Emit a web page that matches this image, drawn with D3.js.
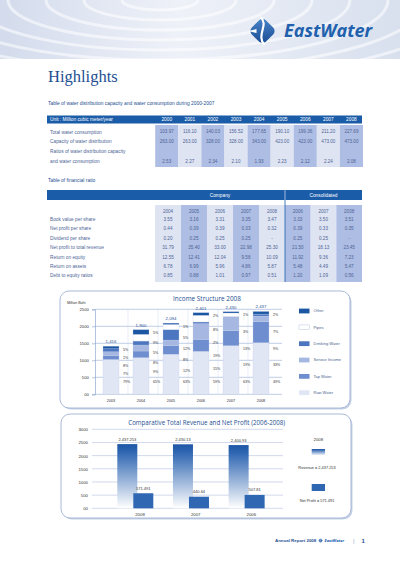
<!DOCTYPE html>
<html>
<head>
<meta charset="utf-8">
<script src="https://cdn.jsdelivr.net/npm/d3@7"></script>
<style>
  html, body { margin: 0; padding: 0; background: #fff; }
  svg { display: block; }
</style>
</head>
<body>
<div id="page"></div>
<script>
// Water distribution table
const waterYears = ["2000", "2001", "2002", "2003", "2004", "2005", "2006", "2007", "2008"];
const totalConsumption = [103.97, 116.1, 140.03, 156.52, 177.65, 190.1, 199.36, 211.2, 227.69];
const distributionCapacity = [263, 263, 328, 328, 343, 423, 423, 473, 473];
const capacityRatio = [2.53, 2.27, 2.34, 2.1, 1.93, 2.23, 2.12, 2.24, 2.08];

// Financial ratio table
const companyYears = ["2004", "2005", "2006", "2007", "2008"];
const consolidatedYears = ["2006", "2007", "2008"];
const ratioNames = ["Book value per share", "Net profit per share", "Dividend per share",
  "Net profit to total revenue", "Return on equity", "Return on assets", "Debt to equity ratios"];
const companyRatios = [
  [3.55, 3.16, 3.31, 3.35, 3.47],
  [0.44, 0.39, 0.39, 0.33, 0.32],
  [0.20, 0.25, 0.25, 0.25, null],
  [31.79, 35.40, 33.00, 22.98, 25.30],
  [12.55, 12.41, 12.04, 9.58, 10.09],
  [6.78, 6.99, 5.96, 4.86, 5.87],
  [0.85, 0.88, 1.01, 0.97, 0.51],
];
const consolidatedRatios = [
  [3.33, 3.50, 3.51],
  [0.39, 0.33, 0.35],
  [0.25, 0.25, null],
  [21.50, 18.13, 23.45],
  [11.92, 9.36, 7.23],
  [5.48, 4.49, 5.47],
  [1.20, 1.09, 0.56],
];

// Income structure (million baht)
const incomeYears = ["2003", "2004", "2005", "2006", "2007", "2008"];
const incomeTotals = [1416, 1900, 2094, 2401, 2430, 2437];
const incomeCategories = ["Raw Water", "Tap Water", "Service Income", "Drinking Water", "Pipes", "Other"];
const rawWater = [1024, 1077, 1180, 1264, 1429, 1516];
const tapWater = [118, 196, 245, 353, 441, 617];
const serviceIncome = [108, 176, 170, 461, 421, 167];
const drinkingWater = [88, 118, 310, 49, 0, 59];
const pipesIncome = [0, 196, 150, 196, 100, 0];
const otherIncome = [78, 137, 39, 78, 39, 78];
const incomeShares = [
  ["5%", "1%", "8%", "7%", "79%"],
  ["5%", "9%", "5%", "8%", "9%", "65%"],
  ["1%", "5%", "12%", "8%", "12%", "63%"],
  ["2%", "8%", "2%", "19%", "15%", "59%"],
  ["1%", "3%", "13%", "19%", "63%"],
  ["2%", "7%", "9%", "33%", "49%"],
];
const incomeTicks = [0, 500, 1000, 1500, 2000, 2500];

// Revenue and net profit
const compYears = ["2008", "2007", "2006"];
const totalRevenue = [2437.253, 2430.13, 2400.93];
const netProfit = [571.491, 440.64, 507.81];
const compTicks = [0, 500, 1000, 1500, 2000, 2500, 3000];

const sans = "'Liberation Sans', Arial, sans-serif";
const round = "'Open Sans', 'Liberation Sans', sans-serif";
const navy = "#1d4f91";
const headBlue = "#1b5ca8";
const cellDark = "#aebde3";
const cellLight = "#dfe4f3";
const cellText = "#4d6496";
const fmt2 = d3.format(".2f");
const fmtNum = d3.format(",");

const svg = d3.select("#page").append("svg")
  .attr("width", 400).attr("height", 565)
  .attr("viewBox", [0, 0, 400, 565]);
const defs = svg.append("defs");

// ---- banner ----
const bannerGrad = defs.append("linearGradient").attr("id", "banner");
bannerGrad.append("stop").attr("offset", "0").attr("stop-color", "#d3dbec");
bannerGrad.append("stop").attr("offset", "0.45").attr("stop-color", "#eef1f8");
bannerGrad.append("stop").attr("offset", "1").attr("stop-color", "#d8e0ee");
defs.append("clipPath").attr("id", "bannerClip")
  .append("rect").attr("width", 400).attr("height", 59);

svg.append("rect").attr("width", 400).attr("height", 59).attr("fill", "url(#banner)");
svg.append("g").attr("clip-path", "url(#bannerClip)")
  .selectAll("ellipse")
  .data(d3.range(1, 12))
  .join("ellipse")
  .attr("cx", 160).attr("cy", 0)
  .attr("rx", (d) => d * 38).attr("ry", (d) => d * 10)
  .attr("fill", "none")
  .attr("stroke", "#ffffff")
  .attr("stroke-opacity", 0.55)
  .attr("stroke-width", 3);

// logo
const logoGrad = defs.append("linearGradient").attr("id", "logo")
  .attr("x1", 0).attr("y1", 0).attr("x2", 1).attr("y2", 1);
logoGrad.append("stop").attr("offset", "0").attr("stop-color", "#4a86cc");
logoGrad.append("stop").attr("offset", "1").attr("stop-color", "#18498f");

function drawLogo(g, s) {
  g.append("rect")
    .attr("x", -10 * s).attr("y", -10 * s)
    .attr("width", 20 * s).attr("height", 20 * s)
    .attr("rx", 5 * s)
    .attr("transform", "rotate(45)")
    .attr("fill", "url(#logo)");
  g.append("path")
    .attr("d", `M${-2 * s},${-14 * s} C${7 * s},${-6 * s} ${-7 * s},${4 * s} ${2 * s},${14 * s}`)
    .attr("fill", "none").attr("stroke", "#fff").attr("stroke-width", 2.2 * s);
  g.append("path")
    .attr("d", `M${-14 * s},0 L${-6 * s},${-2 * s} L${-6 * s},${2 * s} Z`)
    .attr("fill", "#fff");
}
drawLogo(svg.append("g").attr("transform", "translate(262.5,31)"), 1);
svg.append("text")
  .attr("x", 284).attr("y", 36.5)
  .attr("font-family", round).attr("font-weight", 700).attr("font-style", "italic")
  .attr("font-size", 18).attr("fill", "#2060ad")
  .text("EastWater");

svg.append("text")
  .attr("x", 48).attr("y", 82)
  .attr("font-family", "'Liberation Serif', 'DejaVu Serif', serif")
  .attr("font-size", 16.5).attr("fill", navy)
  .text("Highlights");

// ---- table 1 ----
svg.append("text")
  .attr("x", 48).attr("y", 104.5)
  .attr("font-family", sans).attr("font-size", 4.9).attr("fill", navy)
  .text("Table of water distribution capacity and water consumption during 2000-2007");

const wx = d3.scaleBand().domain(waterYears).range([155.2, 363]);
svg.append("rect").attr("x", 47).attr("y", 115.5).attr("width", 315).attr("height", 8).attr("fill", headBlue);
svg.append("text")
  .attr("x", 50).attr("y", 119.5).attr("dy", "0.35em")
  .attr("font-family", sans).attr("font-size", 4.8).attr("fill", "#fff")
  .text("Unit : Million cubic meter/year");
svg.append("g")
  .selectAll("text")
  .data(waterYears)
  .join("text")
  .attr("x", (d) => wx(d) + wx.bandwidth() / 2).attr("y", 119.5).attr("dy", "0.35em")
  .attr("text-anchor", "middle")
  .attr("font-family", sans).attr("font-size", 4.8).attr("fill", "#fff")
  .text((d) => d);

svg.append("g")
  .selectAll("rect")
  .data(waterYears)
  .join("rect")
  .attr("x", (d) => wx(d)).attr("y", 125)
  .attr("width", wx.bandwidth()).attr("height", 42)
  .attr("fill", (d, i) => (i % 2 === 0 ? cellDark : cellLight));

const waterRows = [
  { label: "Total water consumption", values: totalConsumption },
  { label: "Capacity of water distribution", values: distributionCapacity },
  { label: "Ratios of water distribution capacity", values: null },
  { label: "and water consumption", values: capacityRatio },
];
const wy = d3.scaleBand().domain(d3.range(waterRows.length)).range([127, 166]);
waterRows.forEach((row, r) => {
  const cy = wy(r) + wy.bandwidth() / 2;
  svg.append("text")
    .attr("x", 50).attr("y", cy).attr("dy", "0.35em")
    .attr("font-family", sans).attr("font-size", 4.8).attr("fill", cellText)
    .text(row.label);
  if (!row.values) return;
  svg.append("g")
    .selectAll("text")
    .data(row.values)
    .join("text")
    .attr("x", (d, i) => wx(waterYears[i]) + wx.bandwidth() / 2).attr("y", cy).attr("dy", "0.35em")
    .attr("text-anchor", "middle")
    .attr("font-family", sans).attr("font-size", 4.6).attr("fill", cellText)
    .text((d) => fmt2(d));
});

// ---- table 2 ----
svg.append("text")
  .attr("x", 48).attr("y", 181.5)
  .attr("font-family", sans).attr("font-size", 4.9).attr("fill", navy)
  .text("Table of financial ratio");

const cx = d3.scaleBand().domain(companyYears).range([155, 285]);
const kx = d3.scaleBand().domain(consolidatedYears).range([285, 362]);
svg.append("rect").attr("x", 47).attr("y", 190).attr("width", 315).attr("height", 10).attr("fill", headBlue);
svg.append("line").attr("x1", 285).attr("x2", 285).attr("y1", 190).attr("y2", 200)
  .attr("stroke", "#fff").attr("stroke-width", 0.6);
svg.append("text")
  .attr("x", 220).attr("y", 195).attr("dy", "0.35em").attr("text-anchor", "middle")
  .attr("font-family", sans).attr("font-size", 4.8).attr("fill", "#fff").text("Company");
svg.append("text")
  .attr("x", 323.5).attr("y", 195).attr("dy", "0.35em").attr("text-anchor", "middle")
  .attr("font-family", sans).attr("font-size", 4.8).attr("fill", "#fff").text("Consolidated");

svg.append("g")
  .selectAll("rect")
  .data(companyYears)
  .join("rect")
  .attr("x", (d) => cx(d)).attr("y", 205)
  .attr("width", cx.bandwidth()).attr("height", 77)
  .attr("fill", (d, i) => (i % 2 === 1 ? cellDark : cellLight));
svg.append("g")
  .selectAll("rect")
  .data(consolidatedYears)
  .join("rect")
  .attr("x", (d) => kx(d)).attr("y", 205)
  .attr("width", kx.bandwidth()).attr("height", 77)
  .attr("fill", (d, i) => (i % 2 === 0 ? cellDark : cellLight));
svg.append("line").attr("x1", 285).attr("x2", 285).attr("y1", 200).attr("y2", 282)
  .attr("stroke", headBlue).attr("stroke-width", 0.8);

const yearCells = companyYears.map((d) => ({ d, x: cx(d) + cx.bandwidth() / 2 }))
  .concat(consolidatedYears.map((d) => ({ d, x: kx(d) + kx.bandwidth() / 2 })));
svg.append("g")
  .selectAll("text")
  .data(yearCells)
  .join("text")
  .attr("x", (c) => c.x).attr("y", 211.7).attr("dy", "0.35em")
  .attr("text-anchor", "middle")
  .attr("font-family", sans).attr("font-size", 4.6).attr("fill", cellText)
  .text((c) => c.d);

const ry = d3.scaleBand().domain(ratioNames).range([214.5, 280.5]);
ratioNames.forEach((name, r) => {
  const cy = ry(name) + ry.bandwidth() / 2;
  svg.append("text")
    .attr("x", 50).attr("y", cy).attr("dy", "0.35em")
    .attr("font-family", sans).attr("font-size", 4.8).attr("fill", cellText)
    .text(name);
  const vals = companyRatios[r].concat(consolidatedRatios[r]);
  svg.append("g")
    .selectAll("text")
    .data(vals)
    .join("text")
    .attr("x", (v, i) => yearCells[i].x).attr("y", cy).attr("dy", "0.35em")
    .attr("text-anchor", "middle")
    .attr("font-family", sans).attr("font-size", 4.6).attr("fill", cellText)
    .text((v) => (v == null ? "-" : fmt2(v)));
});

// ---- panels ----
function panel(x, y, w, h) {
  svg.append("rect").attr("x", x + 1.5).attr("y", y + 1.5).attr("width", w).attr("height", h)
    .attr("rx", 9).attr("fill", "#c6d1e6");
  svg.append("rect").attr("x", x).attr("y", y).attr("width", w).attr("height", h)
    .attr("rx", 9).attr("fill", "#fff").attr("stroke", "#9fb2d4").attr("stroke-width", 0.9);
}
panel(60, 291, 290, 117);
panel(61, 414, 290, 104);

// ---- income structure chart ----
svg.append("text")
  .attr("x", 207).attr("y", 300.5).attr("text-anchor", "middle")
  .attr("font-family", round).attr("font-size", 6.4).attr("fill", navy)
  .text("Income Structure 2008");
svg.append("text")
  .attr("x", 67).attr("y", 303.5)
  .attr("font-family", sans).attr("font-size", 3.6).attr("fill", "#333")
  .text("Million Baht");

const iy = d3.scaleLinear().domain([0, 2500]).range([394.3, 309.3]);
const ix = d3.scaleBand().domain(incomeYears).range([98, 278]);

const incomeAxis = svg.append("g")
  .attr("transform", "translate(95,0)")
  .call(d3.axisLeft(iy).tickValues(incomeTicks).tickSize(3).tickPadding(3)
    .tickFormat((d) => (d === 0 ? "00" : d)));
incomeAxis.select(".domain").attr("stroke", "#7f9bcc").attr("stroke-width", 0.6);
incomeAxis.selectAll(".tick line").attr("stroke", "#7f9bcc").attr("stroke-width", 0.6);
incomeAxis.selectAll(".tick text")
  .attr("font-family", sans).attr("font-size", 4.3).attr("fill", "#333");

svg.append("g")
  .selectAll("line")
  .data(incomeTicks)
  .join("line")
  .attr("x1", 95).attr("x2", 282)
  .attr("y1", (d) => iy(d)).attr("y2", (d) => iy(d))
  .attr("stroke", "#7f9bcc").attr("stroke-width", 0.5);
svg.append("g")
  .selectAll("line")
  .data(incomeYears.slice(1))
  .join("line")
  .attr("x1", (d) => ix(d)).attr("x2", (d) => ix(d))
  .attr("y1", iy(2500)).attr("y2", iy(0))
  .attr("stroke", "#c3cfe8").attr("stroke-width", 0.4);

const incomeTable = incomeYears.map((year, i) => ({
  year,
  "Raw Water": rawWater[i],
  "Tap Water": tapWater[i],
  "Service Income": serviceIncome[i],
  "Drinking Water": drinkingWater[i],
  "Pipes": pipesIncome[i],
  "Other": otherIncome[i],
}));
const stacked = d3.stack().keys(incomeCategories)(incomeTable);
const incomeColor = d3.scaleOrdinal()
  .domain(incomeCategories)
  .range(["#e1e6f5", "#6e8ecf", "#a6b8e1", "#4d76c0", "#ffffff", "#1a56a2"]);

const barOffset = 5;
const barWidth = 16;
svg.append("g")
  .selectAll("g")
  .data(stacked)
  .join("g")
  .attr("fill", (s) => incomeColor(s.key))
  .selectAll("rect")
  .data((s) => s)
  .join("rect")
  .attr("x", (d) => ix(d.data.year) + barOffset)
  .attr("y", (d) => iy(d[1]))
  .attr("width", barWidth)
  .attr("height", (d) => iy(d[0]) - iy(d[1]))
  .attr("stroke", "#c2cde9")
  .attr("stroke-width", 0.3);

svg.append("g")
  .selectAll("text")
  .data(incomeYears)
  .join("text")
  .attr("x", (d) => ix(d) + barOffset + barWidth / 2)
  .attr("y", (d, i) => iy(incomeTotals[i]) - 3)
  .attr("text-anchor", "middle")
  .attr("font-family", sans).attr("font-size", 4.3).attr("fill", navy)
  .text((d, i) => fmtNum(incomeTotals[i]));

// percentage labels, spread from bar top down to the lower part of the bar
incomeYears.forEach((year, i) => {
  const labels = incomeShares[i];
  const top = iy(incomeTotals[i]) + 3.5;
  const bottom = iy(370);
  const step = (bottom - top) / (labels.length - 1);
  svg.append("g")
    .selectAll("text")
    .data(labels)
    .join("text")
    .attr("x", ix(year) + barOffset + barWidth + 4)
    .attr("y", (d, k) => top + k * step)
    .attr("dy", "0.35em")
    .attr("font-family", sans).attr("font-size", 3.6).attr("fill", "#333")
    .text((d) => d);
});

svg.append("g")
  .selectAll("text")
  .data(incomeYears)
  .join("text")
  .attr("x", (d) => ix(d) + barOffset + barWidth / 2)
  .attr("y", 401).attr("dy", "0.35em")
  .attr("text-anchor", "middle")
  .attr("font-family", sans).attr("font-size", 3.8).attr("fill", "#333")
  .text((d) => d);

// legend
const legendOrder = incomeCategories.slice().reverse();
const ly = d3.scalePoint().domain(legendOrder).range([311, 392.7]);
const legend = svg.append("g")
  .selectAll("g")
  .data(legendOrder)
  .join("g")
  .attr("transform", (d) => `translate(299,${ly(d)})`);
legend.append("rect")
  .attr("x", 0).attr("y", -2.4).attr("width", 10.5).attr("height", 4.8)
  .attr("fill", (d) => incomeColor(d))
  .attr("stroke", (d) => (d === "Pipes" ? "#b8c5e4" : "none"))
  .attr("stroke-width", 0.5);
legend.append("text")
  .attr("x", 14.5).attr("dy", "0.35em")
  .attr("font-family", sans).attr("font-size", 4).attr("fill", "#4a5f8e")
  .text((d) => d);

// ---- comparative revenue / profit chart ----
svg.append("text")
  .attr("x", 206.7).attr("y", 425).attr("text-anchor", "middle")
  .attr("font-family", round).attr("font-size", 6.2).attr("fill", navy)
  .text("Comparative Total Revenue and Net Profit (2006-2008)");

const cy2 = d3.scaleLinear().domain([0, 3000]).range([508.3, 429.3]);
const cx2 = d3.scaleBand().domain(compYears).range([100, 267]);
const compAxis = svg.append("g")
  .attr("transform", "translate(92,0)")
  .call(d3.axisLeft(cy2).tickValues(compTicks).tickSize(0).tickPadding(4)
    .tickFormat((d) => (d === 0 ? "00" : d)));
compAxis.select(".domain").remove();
compAxis.selectAll(".tick text")
  .attr("font-family", sans).attr("font-size", 4.3).attr("fill", "#333");

svg.append("g")
  .selectAll("line")
  .data(compTicks)
  .join("line")
  .attr("x1", 92).attr("x2", 283)
  .attr("y1", (d) => cy2(d)).attr("y2", (d) => cy2(d))
  .attr("stroke", "#a3b3d6").attr("stroke-width", 0.5);

const revGrad = defs.append("linearGradient").attr("id", "revenue")
  .attr("x1", 0).attr("y1", 0).attr("x2", 0).attr("y2", 1);
revGrad.append("stop").attr("offset", "0").attr("stop-color", "#1c56a5");
revGrad.append("stop").attr("offset", "0.12").attr("stop-color", "#2f66b2");
revGrad.append("stop").attr("offset", "1").attr("stop-color", "#ffffff");

const revOffset = 17.3;
const profitOffset = 33.3;
const compBar = 20;
svg.append("g")
  .selectAll("rect")
  .data(totalRevenue)
  .join("rect")
  .attr("x", (d, i) => cx2(compYears[i]) + revOffset)
  .attr("y", (d) => cy2(d))
  .attr("width", compBar)
  .attr("height", (d) => cy2(0) - cy2(d))
  .attr("fill", "url(#revenue)");
svg.append("g")
  .selectAll("rect")
  .data(netProfit)
  .join("rect")
  .attr("x", (d, i) => cx2(compYears[i]) + profitOffset)
  .attr("y", (d) => cy2(d))
  .attr("width", compBar)
  .attr("height", (d) => cy2(0) - cy2(d))
  .attr("fill", "#2f67b2");

svg.append("g")
  .selectAll("text")
  .data(totalRevenue)
  .join("text")
  .attr("x", (d, i) => cx2(compYears[i]) + revOffset + compBar / 2)
  .attr("y", (d) => cy2(d) - 3)
  .attr("text-anchor", "middle")
  .attr("font-family", sans).attr("font-size", 4).attr("fill", "#333")
  .text((d) => fmtNum(d));
svg.append("g")
  .selectAll("text")
  .data(netProfit)
  .join("text")
  .attr("x", (d, i) => cx2(compYears[i]) + profitOffset + compBar / 2)
  .attr("y", (d) => cy2(d) - 3.5)
  .attr("text-anchor", "middle")
  .attr("font-family", sans).attr("font-size", 4).attr("fill", "#333")
  .text((d) => fmtNum(d));

svg.append("g")
  .selectAll("text")
  .data(compYears)
  .join("text")
  .attr("x", (d) => cx2(d) + 40)
  .attr("y", 514).attr("dy", "0.35em")
  .attr("text-anchor", "middle")
  .attr("font-family", sans).attr("font-size", 4.3).attr("fill", "#333")
  .text((d) => d);

// legend for 2008
const lg = svg.append("g").attr("font-family", sans).attr("fill", "#333").attr("text-anchor", "middle");
lg.append("text").attr("x", 318.3).attr("y", 440.5).attr("font-size", 4.3).text(compYears[0]);
lg.append("rect").attr("x", 311.7).attr("y", 449).attr("width", 13.3).attr("height", 6.5)
  .attr("fill", "url(#revenue)");
lg.append("text").attr("x", 317).attr("y", 468.8).attr("font-size", 3.9)
  .text(`Revenue = ${fmtNum(totalRevenue[0])}`);
lg.append("rect").attr("x", 311.7).attr("y", 484).attr("width", 13.3).attr("height", 7)
  .attr("fill", "#2f67b2");
lg.append("text").attr("x", 317).attr("y", 502).attr("font-size", 3.9)
  .text(`Net Profit = ${fmtNum(netProfit[0])}`);

// ---- footer ----
svg.append("text")
  .attr("x", 275).attr("y", 542)
  .attr("font-family", sans).attr("font-weight", 700).attr("font-size", 4.4).attr("fill", navy)
  .text("Annual Report 2008");
drawLogo(svg.append("g").attr("transform", "translate(320.5,540.5)"), 0.17);
svg.append("text")
  .attr("x", 324.5).attr("y", 542)
  .attr("font-family", round).attr("font-weight", 700).attr("font-style", "italic")
  .attr("font-size", 4).attr("fill", "#2060ad")
  .text("EastWater");
svg.append("text")
  .attr("x", 353).attr("y", 542.5)
  .attr("font-family", sans).attr("font-size", 6).attr("fill", "#9aaacb")
  .text("|");
svg.append("text")
  .attr("x", 361.5).attr("y", 543)
  .attr("font-family", sans).attr("font-weight", 700).attr("font-size", 6).attr("fill", navy)
  .text("1");
</script>
</body>
</html>
